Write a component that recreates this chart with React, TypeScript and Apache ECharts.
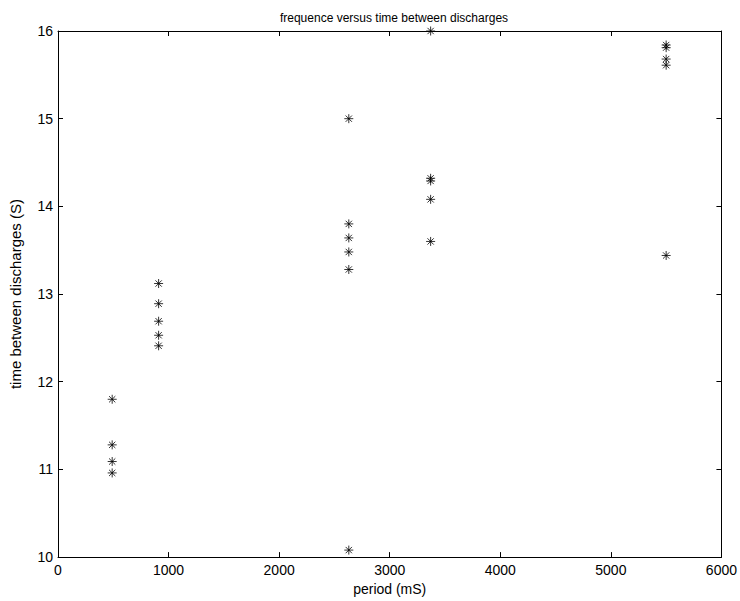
import React, { useEffect, useRef } from "react";
import * as echarts from "echarts";

const periods = [490, 910, 2630, 3370, 5500];
const times0 = [11.8, 11.28, 11.09, 10.96];
const times1 = [13.12, 12.89, 12.69, 12.53, 12.41];
const times2 = [15.0, 13.8, 13.64, 13.48, 13.28, 10.08];
const times3 = [16.0, 14.32, 14.29, 14.08, 13.6];
const times4 = [15.84, 15.81, 15.68, 15.61, 13.44];
const xTicks = [0, 1000, 2000, 3000, 4000, 5000, 6000];
const yTicks = [10, 11, 12, 13, 14, 15, 16];

const groups = [times0, times1, times2, times3, times4];

const FONT = "Liberation Sans, Arial, Helvetica, sans-serif";

export default function App() {
  const ref = useRef<HTMLDivElement>(null);
  useEffect(() => {
    if (!ref.current) return;
    const chart = echarts.init(ref.current, undefined, { renderer: "svg" });
    const data: number[][] = [];
    groups.forEach((g, i) => g.forEach((v) => data.push([periods[i], v])));
    const axisCommon = {
      type: "value" as const,
      axisLine: { show: true, onZero: false, lineStyle: { color: "#000", width: 1 } },
      axisTick: { show: true, inside: true, length: 5, lineStyle: { color: "#000" } },
      splitLine: { show: false },
    };
    chart.setOption({
      animation: false,
      backgroundColor: "#fff",
      title: {
        text: "frequence versus time between discharges",
        left: 389,
        textAlign: "center",
        top: 7,
        textStyle: { fontFamily: FONT, fontSize: 12, fontWeight: "normal", color: "#000" },
      },
      grid: { left: 52, right: 17, top: 31, bottom: 41 },
      xAxis: [
        {
          ...axisCommon,
          position: "bottom",
          min: 0,
          max: 6000,
          interval: 1000,
          name: "period (mS)",
          nameLocation: "middle",
          nameGap: 23,
          nameTextStyle: { fontFamily: FONT, fontSize: 14, color: "#000" },
          axisLabel: {
            fontFamily: FONT,
            fontSize: 14,
            color: "#000",
            margin: 6,
            formatter: (v: number) => (xTicks.includes(v) ? String(v) : ""),
          },
        },
        {
          ...axisCommon,
          position: "top",
          min: 0,
          max: 6000,
          interval: 1000,
          axisLabel: { show: false },
        },
      ],
      yAxis: [
        {
          ...axisCommon,
          position: "left",
          min: 10,
          max: 16,
          interval: 1,
          name: "time between discharges (S)",
          nameLocation: "middle",
          nameGap: 35,
          nameTextStyle: { fontFamily: FONT, fontSize: 15, color: "#000" },
          axisLabel: {
            fontFamily: FONT,
            fontSize: 14,
            color: "#000",
            margin: 5,
            formatter: (v: number) => (yTicks.includes(v) ? String(v) : ""),
          },
        },
        {
          ...axisCommon,
          position: "right",
          min: 10,
          max: 16,
          interval: 1,
          axisLabel: { show: false },
        },
      ],
      series: [
        {
          type: "scatter",
          data,
          symbol: "path://M5,0L5,10M0,5L10,5M1.5,1.5L8.5,8.5M1.5,8.5L8.5,1.5",
          symbolSize: 9,
          itemStyle: { color: "none", borderColor: "#000", borderWidth: 1 },
          emphasis: { disabled: true },
        },
      ],
    });
    return () => chart.dispose();
  }, []);
  return (
    <div
      ref={ref}
      style={{ position: "absolute", left: 0, top: 0, width: 740, height: 601 }}
    />
  );
}
